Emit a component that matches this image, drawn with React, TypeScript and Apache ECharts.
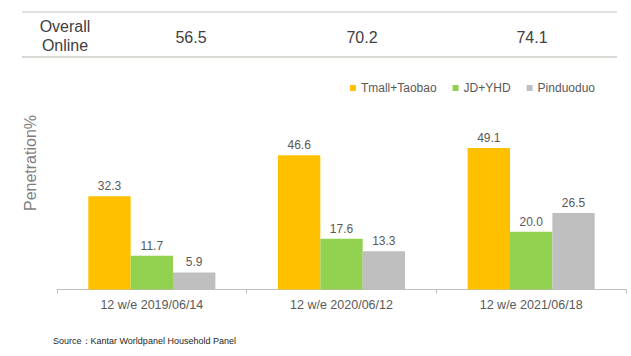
import React, { useEffect, useRef } from "react";
import * as echarts from "echarts";

const categories = ["12 w/e 2019/06/14", "12 w/e 2020/06/12", "12 w/e 2021/06/18"];
const seriesNames = ["Tmall+Taobao", "JD+YHD", "Pinduoduo"];
const tmallTaobao = [32.3, 46.6, 49.1];
const jdYhd = [11.7, 17.6, 20.0];
const pinduoduo = [5.9, 13.3, 26.5];
const overallOnline = ["56.5", "70.2", "74.1"];
const seriesColors = ["#FFC000", "#92D050", "#BFBFBF"];

const FONT = "'Liberation Sans', Arial, sans-serif";

export default function App() {
  const ref = useRef<HTMLDivElement>(null);
  useEffect(() => {
    if (!ref.current) return;
    document.body.style.margin = "0";
    const chart = echarts.init(ref.current, null, { renderer: "svg" });
    const valueX = [191, 362, 532];
    const label = {
      show: true,
      position: "top",
      distance: 4,
      color: "#595959",
      fontSize: 12,
      fontFamily: FONT,
      formatter: (p: any) => Number(p.value).toFixed(1),
    };
    const dataSets = [tmallTaobao, jdYhd, pinduoduo];
    chart.setOption({
      animation: false,
      textStyle: { fontFamily: FONT },
      grid: { left: 57, right: 5, top: 116.5, bottom: 66.5 },
      legend: {
        data: seriesNames,
        right: 31,
        top: 77,
        itemWidth: 6,
        itemHeight: 6,
        itemGap: 16,
        icon: "rect",
        textStyle: { color: "#595959", fontSize: 12, fontFamily: FONT },
      },
      xAxis: {
        type: "category",
        data: categories,
        axisLine: { lineStyle: { color: "#BFBFBF", width: 1 } },
        axisTick: { show: true, length: 4, lineStyle: { color: "#BFBFBF" } },
        axisLabel: { color: "#595959", fontSize: 12.5, margin: 9, fontFamily: FONT },
      },
      yAxis: { type: "value", min: 0, max: 60, show: false },
      series: seriesNames.map((name, i) => ({
        name,
        type: "bar",
        data: dataSets[i],
        barGap: "0%",
        barCategoryGap: "33%",
        itemStyle: { color: seriesColors[i] },
        label,
      })),
      graphic: [
        { type: "line", shape: { x1: 22, y1: 12, x2: 617, y2: 12 }, style: { stroke: "#C4C4BC", lineWidth: 1 } },
        { type: "line", shape: { x1: 22, y1: 57, x2: 617, y2: 57 }, style: { stroke: "#D9D9D4", lineWidth: 2 } },
        { type: "text", x: 65, y: 26, style: { text: "Overall", fill: "#404040", font: `16px ${FONT}`, textAlign: "center", textVerticalAlign: "middle" } },
        { type: "text", x: 65, y: 45.5, style: { text: "Online", fill: "#404040", font: `16px ${FONT}`, textAlign: "center", textVerticalAlign: "middle" } },
        ...overallOnline.map((v, i) => ({
          type: "text",
          x: valueX[i],
          y: 37,
          style: { text: v, fill: "#404040", font: `16px ${FONT}`, textAlign: "center", textVerticalAlign: "middle" },
        })),
        {
          type: "text",
          x: 30,
          y: 163,
          rotation: Math.PI / 2,
          style: { text: "Penetration%", fill: "#7F7F7F", font: `16px ${FONT}`, textAlign: "center", textVerticalAlign: "middle" },
        },
        {
          type: "text",
          x: 53,
          y: 340.5,
          style: { text: "Source：Kantar Worldpanel Household Panel", fill: "#262626", font: `9px ${FONT}`, textAlign: "left", textVerticalAlign: "middle" },
        },
      ],
    });
    return () => chart.dispose();
  }, []);
  return <div ref={ref} style={{ position: "absolute", left: 0, top: 0, width: 631, height: 356 }} />;
}
